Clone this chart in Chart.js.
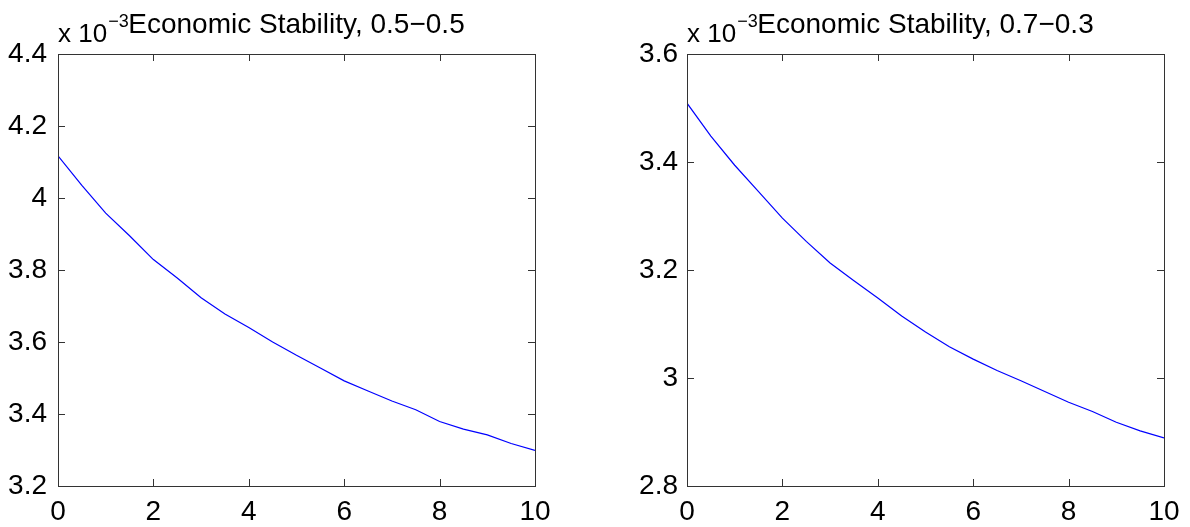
<!DOCTYPE html>
<html>
<head>
<meta charset="utf-8">
<script src="https://cdn.jsdelivr.net/npm/chart.js@4.4.0/dist/chart.umd.min.js"></script>
<style>
body { margin: 0; background: #fff; }
.panel { position: absolute; top: 0; width: 595px; height: 527px; }
</style>
</head>
<body>
<div class="panel" style="left:0"><canvas id="chartA"></canvas></div>
<div class="panel" style="left:595px"><canvas id="chartB"></canvas></div>
<script>
// horizon (x axis)
var steps = [0, 0.5, 1, 1.5, 2, 2.5, 3, 3.5, 4, 4.5, 5, 5.5, 6, 6.5, 7, 7.5, 8, 8.5, 9, 9.5, 10];
// economic stability, in units of 1e-3
var stab55 = [4.117, 4.035, 3.958, 3.895, 3.829, 3.778, 3.723, 3.678, 3.640, 3.600, 3.563,
              3.528, 3.492, 3.464, 3.436, 3.412, 3.379, 3.358, 3.342, 3.318, 3.299];
var stab73 = [3.509, 3.448, 3.394, 3.345, 3.296, 3.253, 3.213, 3.180, 3.148, 3.115, 3.085,
              3.058, 3.035, 3.014, 2.995, 2.975, 2.955, 2.938, 2.918, 2.902, 2.889];
var xTicks = [0, 2, 4, 6, 8, 10];
var yTicks55 = [3.2, 3.4, 3.6, 3.8, 4.0, 4.2, 4.4];
var yTicks73 = [2.8, 3.0, 3.2, 3.4, 3.6];

var FONT = '"Liberation Sans", Arial, sans-serif';

// matlab style box with inward ticks, title and exponent label
var matlabBox = {
  id: 'matlabBox',
  afterDraw: function(chart) {
    var a = chart.chartArea, ctx = chart.ctx, len = 7;
    var sx = chart.scales.x, sy = chart.scales.y;
    ctx.save();
    ctx.strokeStyle = '#333';
    ctx.lineWidth = 1;
    ctx.strokeRect(a.left + 0.5, a.top + 0.5, a.right - a.left, a.bottom - a.top);
    ctx.beginPath();
    sx.ticks.forEach(function(t) {
      var px = Math.round(sx.getPixelForValue(t.value)) + 0.5;
      ctx.moveTo(px, a.bottom); ctx.lineTo(px, a.bottom - len);
      ctx.moveTo(px, a.top); ctx.lineTo(px, a.top + len);
    });
    sy.ticks.forEach(function(t) {
      var py = Math.round(sy.getPixelForValue(t.value)) + 0.5;
      ctx.moveTo(a.left, py); ctx.lineTo(a.left + len, py);
      ctx.moveTo(a.right, py); ctx.lineTo(a.right - len, py);
    });
    ctx.stroke();

    var o = chart.options.plugins.matlabBox;
    ctx.fillStyle = '#000';
    ctx.textBaseline = 'alphabetic';
    ctx.font = '26px ' + FONT;
    ctx.textAlign = 'left';
    ctx.fillText('x 10', a.left, 42);
    var w = ctx.measureText('x 10').width;
    ctx.font = '18px ' + FONT;
    ctx.fillText('\u22123', a.left + w + 1, 27);
    ctx.font = '28px ' + FONT;
    ctx.textAlign = 'center';
    ctx.fillText(o.title, (a.left + a.right) / 2, 33);
    ctx.restore();
  }
};

function makeChart(id, title, values, yTicks, axisWidth, padRight, labelPad) {
  return new Chart(document.getElementById(id), {
    type: 'line',
    data: {
      datasets: [{
        data: steps.map(function(s, i) { return { x: s, y: values[i] }; }),
        borderColor: '#0000ff',
        borderWidth: 1.2,
        pointRadius: 0,
        tension: 0,
        fill: false
      }]
    },
    options: {
      responsive: true,
      maintainAspectRatio: false,
      animation: false,
      layout: { padding: { top: 54, right: padRight, left: 0, bottom: 0 } },
      plugins: {
        legend: { display: false },
        tooltip: { enabled: false },
        matlabBox: { title: title }
      },
      scales: {
        x: {
          type: 'linear',
          min: xTicks[0],
          max: xTicks[xTicks.length - 1],
          afterBuildTicks: function(s) { s.ticks = xTicks.map(function(v) { return { value: v }; }); },
          afterFit: function(s) { s.height = 41; },
          grid: { display: false, drawTicks: false },
          border: { display: false },
          ticks: {
            color: '#000', padding: 9, maxRotation: 0,
            font: { family: FONT, size: 28 }
          }
        },
        y: {
          min: yTicks[0],
          max: yTicks[yTicks.length - 1],
          afterBuildTicks: function(s) { s.ticks = yTicks.map(function(v) { return { value: v }; }); },
          afterFit: function(s) { s.width = axisWidth; },
          grid: { display: false, drawTicks: false },
          border: { display: false },
          ticks: {
            color: '#000', padding: labelPad,
            font: { family: FONT, size: 28 },
            callback: function(v) { return String(+v.toFixed(1)); }
          }
        }
      }
    },
    plugins: [matlabBox]
  });
}

makeChart('chartA', 'Economic Stability, 0.5\u22120.5', stab55, yTicks55, 58, 60, 11);
makeChart('chartB', 'Economic Stability, 0.7\u22120.3', stab73, yTicks73, 92, 26, 9);
</script>
</body>
</html>
